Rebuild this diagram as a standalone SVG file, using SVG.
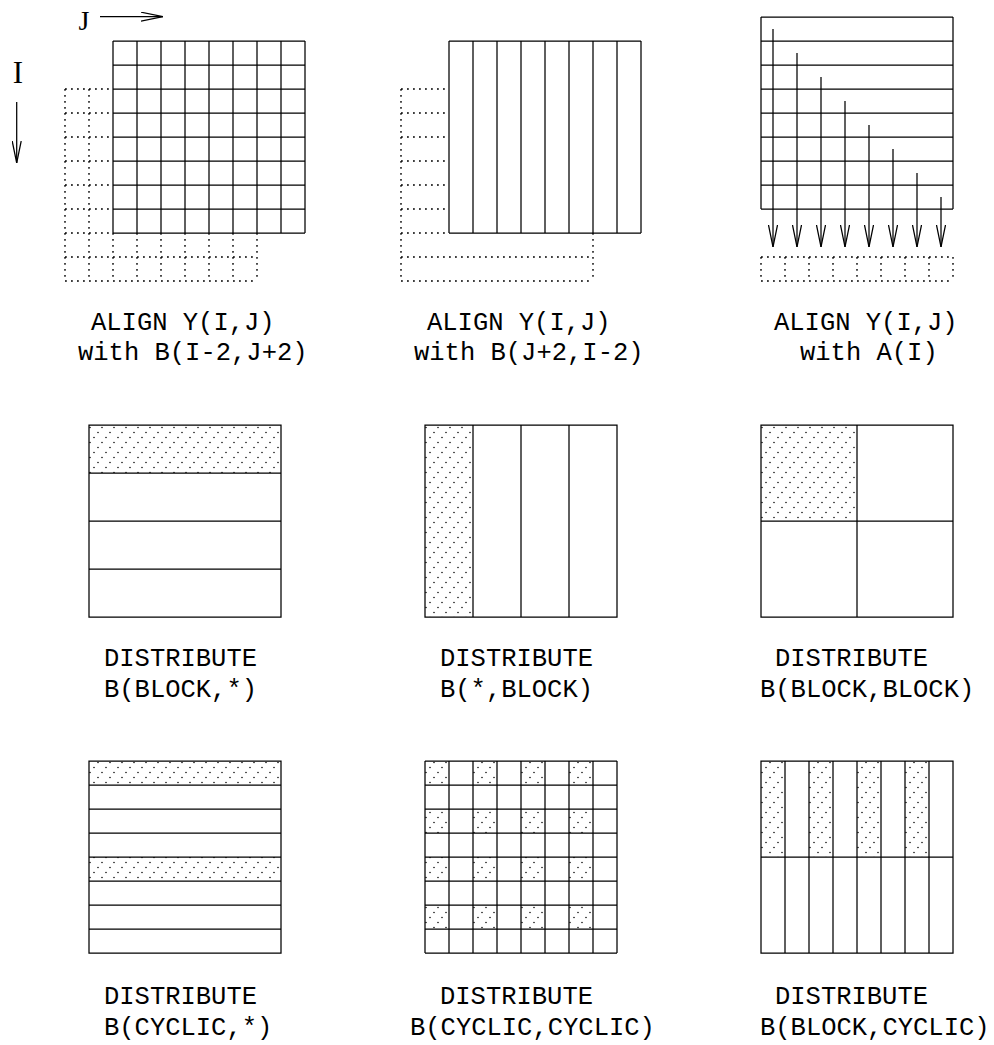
<svg xmlns="http://www.w3.org/2000/svg" width="994" height="1045" viewBox="0 0 994 1045">
<style>
.s{stroke:#000;stroke-width:1.25;fill:none}
.d{stroke:#000;stroke-width:1.4;fill:none;stroke-dasharray:1.8 4.2}
.h{fill:url(#dots);stroke:none}
.t{font-family:"Liberation Mono",monospace;font-size:25.5px;fill:#000}
.r{font-family:"Liberation Serif",serif;fill:#000}
</style>
<defs>
<pattern id="dots" x="0" y="0" width="12" height="15" patternUnits="userSpaceOnUse">
<circle cx="10" cy="2.5" r="0.8" fill="#111"/>
<circle cx="6" cy="7.5" r="0.8" fill="#111"/>
<circle cx="2" cy="12.5" r="0.8" fill="#111"/>
</pattern>
<marker id="ah" viewBox="0 0 22 10" refX="22" refY="5" markerWidth="22" markerHeight="10" markerUnits="userSpaceOnUse" orient="auto">
<path d="M0,0.5 L22,5 L0,9.5" fill="none" stroke="#000" stroke-width="1.25"/>
</marker>
</defs>

<g id="axis-labels">
<text class="r" x="84" y="30" font-size="28" text-anchor="middle">J</text>
<text class="r" x="18" y="83" font-size="31" text-anchor="middle">I</text>
</g>

<g id="align-shift">
<path class="s" d="M113,41H305M113,65H305M113,89H305M113,113H305M113,137H305M113,161H305M113,185H305M113,209H305M113,233H305
M113,41V233M137,41V233M161,41V233M185,41V233M209,41V233M233,41V233M257,41V233M281,41V233M305,41V233"/>
<path class="d" d="M65,89V281M89,89V281M113,233V281M137,233V281M161,233V281M185,233V281M209,233V281M233,233V281M257,233V281
M65,89H113M65,113H113M65,137H113M65,161H113M65,185H113M65,209H113M65,233H113M65,257H257M65,281H257"/>
<text class="t" x="91" y="329.5">ALIGN Y(I,J)</text>
<text class="t" x="78" y="359.5">with B(I-2,J+2)</text>
</g>

<g id="align-transpose">
<path class="s" d="M449,41H641M449,233H641M449,41V233M473,41V233M497,41V233M521,41V233M545,41V233M569,41V233M593,41V233M617,41V233M641,41V233"/>
<path class="d" d="M401,89V281M593,233V281M401,89H449M401,113H449M401,137H449M401,161H449M401,185H449M401,209H449M401,233H449M401,257H593M401,281H593"/>
<text class="t" x="427" y="329.5">ALIGN Y(I,J)</text>
<text class="t" x="414" y="359.5">with B(J+2,I-2)</text>
</g>

<g id="align-collapse">
<path class="s" d="M761,17H953M761,41H953M761,65H953M761,89H953M761,113H953M761,137H953M761,161H953M761,185H953M761,209H953M761,17V209M953,17V209"/>
<path class="d" d="M761,257H953M761,281H953M761,257V281M785,257V281M809,257V281M833,257V281M857,257V281M881,257V281M905,257V281M929,257V281M953,257V281"/>
<text class="t" x="774" y="329.5">ALIGN Y(I,J)</text>
<text class="t" x="800" y="359.5">with A(I)</text>
</g>

<g id="dist-block-star">
<rect class="h" x="89" y="425" width="192" height="48"/>
<path class="s" d="M89,425H281V617H89Z M89,473H281M89,521H281M89,569H281"/>
<text class="t" x="104" y="666">DISTRIBUTE</text>
<text class="t" x="104" y="697">B(BLOCK,*)</text>
</g>

<g id="dist-star-block">
<rect class="h" x="425" y="425" width="48" height="192"/>
<path class="s" d="M425,425H617V617H425Z M473,425V617M521,425V617M569,425V617"/>
<text class="t" x="440" y="666">DISTRIBUTE</text>
<text class="t" x="440" y="697">B(*,BLOCK)</text>
</g>

<g id="dist-block-block">
<rect class="h" x="761" y="425" width="96" height="96"/>
<path class="s" d="M761,425H953V617H761Z M857,425V617M761,521H953"/>
<text class="t" x="775" y="666">DISTRIBUTE</text>
<text class="t" x="760" y="697">B(BLOCK,BLOCK)</text>
</g>

<g id="dist-cyclic-star">
<rect class="h" x="89" y="761" width="192" height="24"/>
<rect class="h" x="89" y="857" width="192" height="24"/>
<path class="s" d="M89,761H281V953H89Z M89,785H281M89,809H281M89,833H281M89,857H281M89,881H281M89,905H281M89,929H281"/>
<text class="t" x="104" y="1004">DISTRIBUTE</text>
<text class="t" x="104" y="1035">B(CYCLIC,*)</text>
</g>

<g id="dist-cyclic-cyclic">
<rect class="h" x="425" y="761" width="24" height="24"/><rect class="h" x="473" y="761" width="24" height="24"/><rect class="h" x="521" y="761" width="24" height="24"/><rect class="h" x="569" y="761" width="24" height="24"/>
<rect class="h" x="425" y="809" width="24" height="24"/><rect class="h" x="473" y="809" width="24" height="24"/><rect class="h" x="521" y="809" width="24" height="24"/><rect class="h" x="569" y="809" width="24" height="24"/>
<rect class="h" x="425" y="857" width="24" height="24"/><rect class="h" x="473" y="857" width="24" height="24"/><rect class="h" x="521" y="857" width="24" height="24"/><rect class="h" x="569" y="857" width="24" height="24"/>
<rect class="h" x="425" y="905" width="24" height="24"/><rect class="h" x="473" y="905" width="24" height="24"/><rect class="h" x="521" y="905" width="24" height="24"/><rect class="h" x="569" y="905" width="24" height="24"/>
<path class="s" d="M425,761H617M425,785H617M425,809H617M425,833H617M425,857H617M425,881H617M425,905H617M425,929H617M425,953H617
M425,761V953M449,761V953M473,761V953M497,761V953M521,761V953M545,761V953M569,761V953M593,761V953M617,761V953"/>
<text class="t" x="440" y="1004">DISTRIBUTE</text>
<text class="t" x="410" y="1035">B(CYCLIC,CYCLIC)</text>
</g>

<g id="dist-block-cyclic">
<rect class="h" x="761" y="761" width="24" height="96"/><rect class="h" x="809" y="761" width="24" height="96"/><rect class="h" x="857" y="761" width="24" height="96"/><rect class="h" x="905" y="761" width="24" height="96"/>
<path class="s" d="M761,761H953V953H761Z M761,857H953 M785,761V953M809,761V953M833,761V953M857,761V953M881,761V953M905,761V953M929,761V953"/>
<text class="t" x="775" y="1004">DISTRIBUTE</text>
<text class="t" x="760" y="1035">B(BLOCK,CYCLIC)</text>
</g>

<g id="connectors" class="s">
<line x1="100" y1="16.7" x2="163" y2="16.7" marker-end="url(#ah)"/>
<line x1="16.7" y1="102" x2="16.7" y2="163" marker-end="url(#ah)"/>
<line x1="773" y1="29" x2="773" y2="247" marker-end="url(#ah)"/>
<line x1="797" y1="53" x2="797" y2="247" marker-end="url(#ah)"/>
<line x1="821" y1="77" x2="821" y2="247" marker-end="url(#ah)"/>
<line x1="845" y1="101" x2="845" y2="247" marker-end="url(#ah)"/>
<line x1="869" y1="125" x2="869" y2="247" marker-end="url(#ah)"/>
<line x1="893" y1="149" x2="893" y2="247" marker-end="url(#ah)"/>
<line x1="917" y1="173" x2="917" y2="247" marker-end="url(#ah)"/>
<line x1="941" y1="197" x2="941" y2="247" marker-end="url(#ah)"/>
</g>
</svg>
